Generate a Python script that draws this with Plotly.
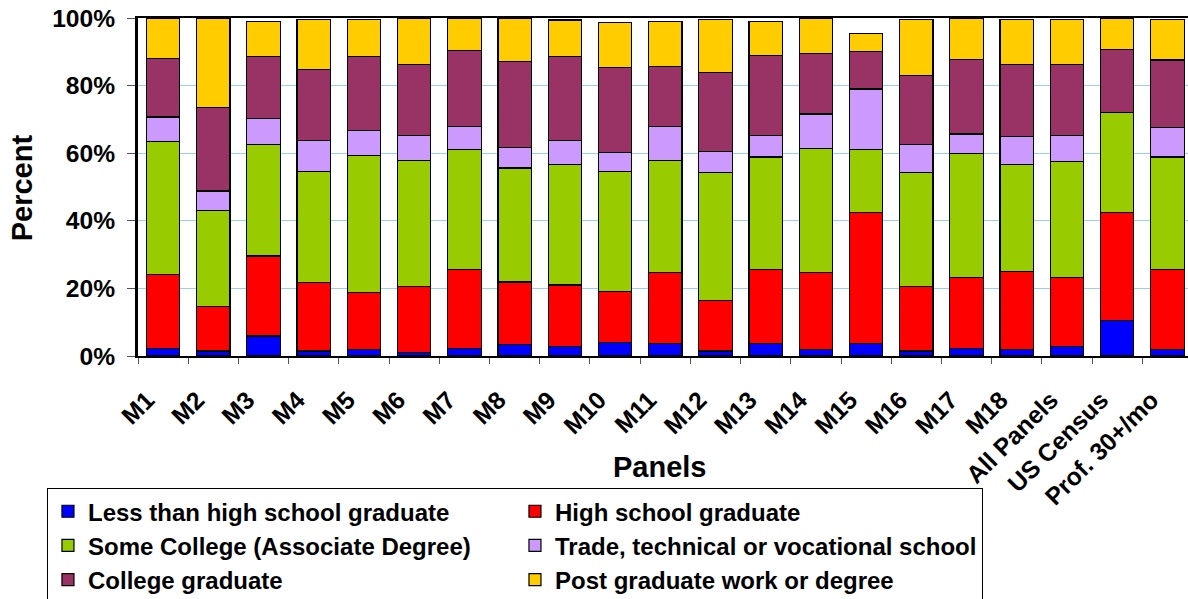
import plotly.graph_objects as go

# categorias (paineis)
paineis = ["M1", "M2", "M3", "M4", "M5", "M6", "M7", "M8", "M9", "M10", "M11",
           "M12", "M13", "M14", "M15", "M16", "M17", "M18", "All Panels",
           "US Census", "Prof. 30+/mo"]

# percentuais (de baixo para cima)
menos_que_medio = [2.3, 1.5, 5.9, 1.5, 2.0, 1.0, 2.3, 3.3, 2.8, 4.1, 3.7,
                   1.5, 3.7, 2.0, 3.7, 1.5, 2.3, 2.0, 2.8, 10.6, 2.0]
ensino_medio = [21.9, 13.1, 23.7, 20.3, 16.7, 19.5, 23.4, 18.6, 18.2, 15.1, 21.0,
                14.9, 22.0, 22.7, 38.8, 19.0, 21.0, 23.1, 20.5, 31.9, 23.5]
algum_college = [39.2, 28.4, 32.9, 32.9, 40.7, 37.4, 35.3, 33.7, 35.6, 35.5, 33.2,
                 37.9, 33.2, 36.8, 18.5, 33.8, 36.6, 31.6, 34.2, 29.6, 33.4]
tecnico = [7.3, 5.8, 7.8, 9.1, 7.2, 7.4, 7.0, 6.0, 7.2, 5.4, 10.1,
           6.3, 6.3, 10.1, 18.0, 8.2, 5.8, 8.2, 7.7, 0.0, 8.7]
graduado = [17.3, 24.8, 18.2, 21.0, 21.9, 21.0, 22.4, 25.6, 24.7, 25.2, 17.7,
            23.3, 23.8, 17.9, 11.0, 20.5, 22.0, 21.3, 21.0, 18.6, 20.0]
pos_graduacao = [12.0, 26.3, 10.5, 14.7, 11.0, 13.6, 9.5, 12.7, 10.9, 13.4, 13.3,
                 15.6, 10.0, 10.4, 5.5, 16.5, 12.2, 13.3, 13.3, 9.2, 11.9]

series = [
    ("Less than high school graduate", menos_que_medio, "#0000FF"),
    ("High school graduate", ensino_medio, "#FF0000"),
    ("Some College (Associate Degree)", algum_college, "#99CC00"),
    ("Trade, technical or vocational school", tecnico, "#CC99FF"),
    ("College graduate", graduado, "#993366"),
    ("Post graduate work or degree", pos_graduacao, "#FFCC00"),
]

fonte = "Arial, Liberation Sans, sans-serif"
tam = 24.6

fig = go.Figure()

for nome, valores, cor in series:
    fig.add_trace(
        go.Bar(
            x=paineis,
            y=valores,
            name=nome,
            marker=dict(color=cor, line=dict(color="black", width=1.2)),
        )
    )

fig.update_layout(
    width=1188,
    height=599,
    barmode="stack",
    bargap=0.335,
    plot_bgcolor="white",
    paper_bgcolor="white",
    margin=dict(l=138, r=0, t=18, b=243, autoexpand=False),
    font=dict(family=fonte, size=tam, color="black"),
    showlegend=True,
    legend=dict(
        orientation="h",
        x=-0.0867,
        y=-0.391,
        xanchor="left",
        yanchor="top",
        entrywidth=422,
        bordercolor="black",
        borderwidth=1,
        font=dict(family=fonte, size=24, color="black", weight="bold"),
        traceorder="normal",
    ),
    xaxis=dict(
        type="category",
        range=[-0.5, 20.41],
        tickangle=-45,
        ticks="outside",
        tickson="boundaries",
        ticklen=6,
        tickcolor="#555555",
        showline=True,
        linecolor="black",
        linewidth=2,
        mirror=True,
        tickfont=dict(family=fonte, size=tam, weight="bold"),
        ticklabelstandoff=18,
        ticklabelshift=-16,
    ),
    yaxis=dict(
        range=[0, 100],
        tickvals=[0, 20, 40, 60, 80, 100],
        ticktext=["0%", "20%", "40%", "60%", "80%", "100%"],
        showgrid=True,
        gridcolor="#99CCFF",
        gridwidth=1,
        ticks="outside",
        ticklen=8,
        tickcolor="#555555",
        showline=True,
        linecolor="black",
        linewidth=3,
        zeroline=False,
        tickfont=dict(family=fonte, size=tam, weight="bold"),
        ticklabelstandoff=7,
    ),
    annotations=[
        dict(
            text="Percent",
            x=-0.1108,
            y=0.498,
            xref="paper",
            yref="paper",
            xanchor="center",
            yanchor="middle",
            textangle=-90,
            showarrow=False,
            font=dict(family=fonte, size=29, weight="bold"),
        ),
        dict(
            text="Panels",
            x=0.497,
            y=-0.328,
            xref="paper",
            yref="paper",
            xanchor="center",
            yanchor="middle",
            showarrow=False,
            font=dict(family=fonte, size=29, weight="bold"),
        ),
    ],
)

# tira a margem padrao do body para o grafico ficar em (0, 0)
fig.write_html(
    "out.html",
    config={"displayModeBar": False},
    post_script="document.body.style.margin='0';",
)
